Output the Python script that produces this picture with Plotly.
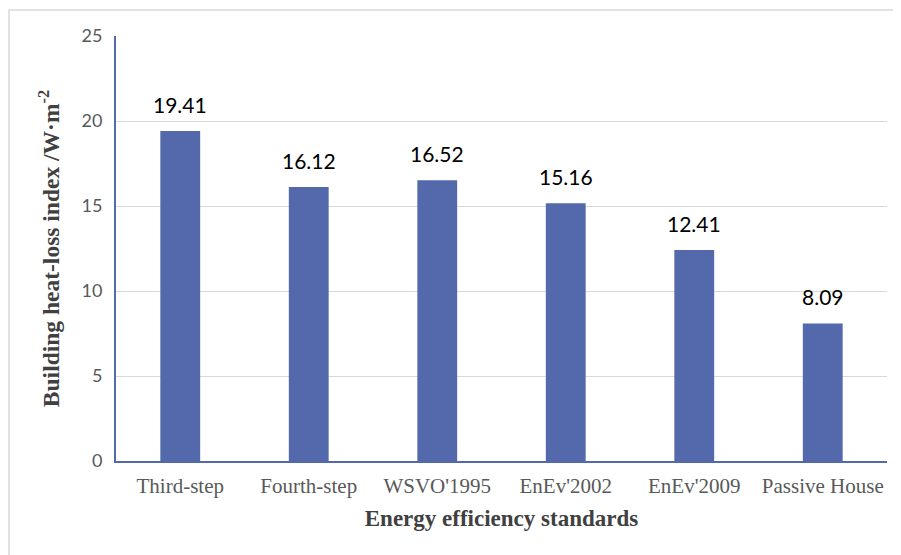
import plotly.graph_objects as go

categories = ["Third-step", "Fourth-step", "WSVO'1995", "EnEv'2002", "EnEv'2009", "Passive House"]
values = [19.41, 16.12, 16.52, 15.16, 12.41, 8.09]
labels = ["19.41", "16.12", "16.52", "15.16", "12.41", "8.09"]
y_ticks = [0, 5, 10, 15, 20, 25]

bar_color = "#5469AB"

fig = go.Figure(go.Bar(
    x=categories, y=values,
    marker=dict(color=bar_color, line=dict(width=0)),
    width=0.31,
))

for c, v, t in zip(categories, values, labels):
    fig.add_annotation(x=c, y=v, text=t, showarrow=False, yanchor="bottom", yshift=12,
                       font=dict(family="Lato, Open Sans, sans-serif", size=21, color="#000000"))

fig.update_layout(
    width=901, height=555,
    margin=dict(l=108, r=22, t=28, b=102, autoexpand=False),
    paper_bgcolor="white", plot_bgcolor="white",
    showlegend=False,
    xaxis=dict(
        automargin=False,
        showline=True, linecolor=bar_color, linewidth=2,
        ticks="", showgrid=False,
        tickfont=dict(family="Liberation Serif, Times New Roman, serif", size=21, color="#595959"),
        ticklabelstandoff=5,
        title=dict(text="<b>Energy efficiency standards</b>",
                   font=dict(family="Liberation Serif, Times New Roman, serif", size=23, color="#404040"),
                   standoff=13),
    ),
    yaxis=dict(
        automargin=False,
        range=[0, 25], tickvals=y_ticks,
        showline=True, linecolor=bar_color, linewidth=2,
        showgrid=True, gridcolor="#d9d9d9", gridwidth=1,
        zeroline=False, ticks="",
        tickfont=dict(family="Lato, Open Sans, sans-serif", size=18, color="#595959"),
        ticklabelstandoff=8,
        title=dict(text="<b>Building heat-loss index /W·m<sup>-2</sup></b>",
                   font=dict(family="Liberation Serif, Times New Roman, serif", size=23.5, color="#404040"),
                   standoff=15),
    ),
    shapes=[dict(type="rect", xref="paper", yref="paper",
                 x0=-0.1388, x1=1.2, y0=-0.5, y1=1.0612,
                 line=dict(color="#d9d9d9", width=1.5), layer="below")],
)

fig.write_html("out.html")
